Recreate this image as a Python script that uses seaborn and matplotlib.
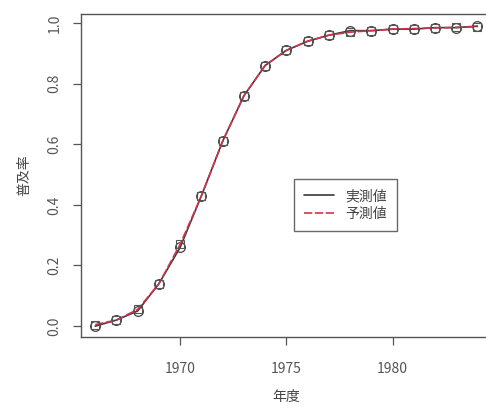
import matplotlib
matplotlib.use("Agg")
import matplotlib.pyplot as plt
import seaborn as sns
import pandas as pd

years = [1966, 1967, 1968, 1969, 1970, 1971, 1972, 1973, 1974, 1975,
         1976, 1977, 1978, 1979, 1980, 1981, 1982, 1983, 1984]
actual = [0.00, 0.02, 0.05, 0.14, 0.26, 0.43, 0.61, 0.76, 0.86, 0.91,
          0.94, 0.96, 0.975, 0.975, 0.98, 0.98, 0.985, 0.985, 0.99]
predicted = [0.005, 0.02, 0.055, 0.14, 0.27, 0.43, 0.61, 0.76, 0.86, 0.91,
             0.94, 0.96, 0.97, 0.975, 0.98, 0.982, 0.984, 0.986, 0.988]
labels = ["実測値", "予測値"]
xticks = [1970, 1975, 1980]
yticks = [0.0, 0.2, 0.4, 0.6, 0.8, 1.0]

sns.set_style("white")
plt.rcParams['font.family'] = ['Noto Sans CJK JP', 'DejaVu Sans']

df = pd.DataFrame({"year": years, "actual": actual, "predicted": predicted})

fig = plt.figure(figsize=(4.86, 4.07), dpi=100)
ax = fig.add_axes([0.1667, 0.172, 0.845, 0.7936])

sns.lineplot(data=df, x="year", y="actual", ax=ax, color="#3a3a3a", lw=1.2,
             marker="o", markersize=7, markerfacecolor="none",
             markeredgecolor="#444444", markeredgewidth=0.9, label=labels[0])
sns.lineplot(data=df, x="year", y="predicted", ax=ax, color="#d9304a", lw=1.2,
             linestyle=(0, (5, 1.5)), marker="s", markersize=6,
             markerfacecolor="none", markeredgecolor="#555555",
             markeredgewidth=0.8, label=labels[1])

ax.set_xlim(1965.33, 1984.67)
ax.set_ylim(-0.036, 1.03)
ax.set_xticks(xticks)
ax.set_yticks(yticks)
ax.set_xticklabels([str(t) for t in xticks], color="#555555", fontsize=10)
ax.set_yticklabels([f"{t:.1f}" for t in yticks], color="#555555", fontsize=10,
                   rotation=90, va="center")
ax.tick_params(axis="both", direction="out", length=6, width=0.9,
               color="#555555", bottom=True, left=True)
ax.tick_params(axis="x", pad=12)
ax.tick_params(axis="y", pad=8)
for s in ax.spines.values():
    s.set_color("#555555")
    s.set_linewidth(1.0)

ax.set_xlabel("年度", color="#444444", fontsize=10, labelpad=10)
ax.set_ylabel("普及率", color="#444444", fontsize=10, labelpad=12)

leg = ax.legend(loc="upper left", bbox_to_anchor=(0.502, 0.51), frameon=True,
                fancybox=False, fontsize=10, handlelength=2.2,
                borderpad=0.7, labelspacing=0.3, labelcolor="#444444")
leg.get_frame().set_edgecolor("#444444")
leg.get_frame().set_linewidth(1.0)
for h in leg.get_lines():
    h.set_marker("")

fig.savefig("out.png", dpi=100)
